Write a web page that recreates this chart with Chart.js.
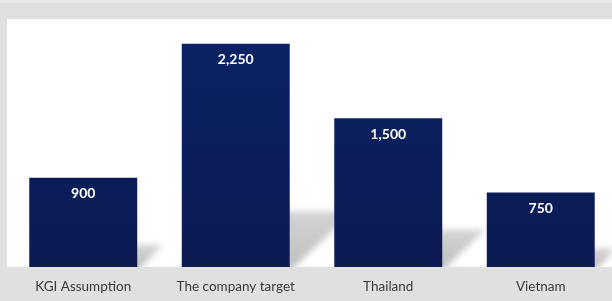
<!DOCTYPE html>
<html>
<head>
<meta charset="utf-8">
<script src="https://cdn.jsdelivr.net/npm/chart.js@4/dist/chart.umd.min.js"></script>
<style>
html,body{margin:0;padding:0;overflow:hidden;background:#e0e0e0;}
#wrap{position:absolute;left:0;top:0;width:618px;height:301px;}
</style>
</head>
<body>
<div id="wrap"><canvas id="c" width="618" height="301"></canvas></div>
<script>
const categories = ["KGI Assumption", "The company target", "Thailand", "Vietnam"];
const values = [900, 2250, 1500, 750];
const yMax = 2500;

const bgPlugin = {
  id: 'bg',
  beforeDraw(chart) {
    const {ctx, chartArea: a} = chart;
    ctx.save();
    ctx.fillStyle = '#e0e0e0';
    ctx.fillRect(0, 0, chart.width, chart.height);
    ctx.fillStyle = '#e9e9e9';
    ctx.fillRect(0, 0, chart.width, 3);
    ctx.fillStyle = '#ffffff';
    ctx.fillRect(a.left, a.top, a.right - a.left, a.bottom - a.top);
    ctx.restore();
  }
};

const shadowPlugin = {
  id: 'shadow',
  beforeDatasetsDraw(chart) {
    const {ctx, chartArea: a} = chart;
    const meta = chart.getDatasetMeta(0);
    ctx.save();
    ctx.beginPath();
    ctx.rect(a.left, a.top, a.right - a.left, a.bottom - a.top);
    ctx.clip();
    ctx.filter = 'blur(3px)';
    meta.data.forEach(el => {
      const h = el.base - el.y;
      const dy = h * 0.25;
      const dx = dy * 1.15;
      const l = el.x - el.width / 2, r = el.x + el.width / 2;
      const g = ctx.createLinearGradient(0, el.base, 0, el.base - dy);
      g.addColorStop(0, 'rgba(0,0,0,0.25)');
      g.addColorStop(1, 'rgba(0,0,0,0.17)');
      ctx.fillStyle = g;
      ctx.beginPath();
      ctx.moveTo(l, el.base + 4);
      ctx.lineTo(r, el.base + 4);
      ctx.lineTo(r + dx, el.base - dy);
      ctx.lineTo(l + dx, el.base - dy);
      ctx.closePath();
      ctx.fill();
    });
    ctx.restore();
  }
};

const labelPlugin = {
  id: 'vlabels',
  afterDatasetsDraw(chart) {
    const {ctx} = chart;
    const meta = chart.getDatasetMeta(0);
    ctx.save();
    ctx.fillStyle = '#ffffff';
    ctx.font = 'bold 14px Lato, "Open Sans", sans-serif';
    ctx.textAlign = 'center';
    ctx.textBaseline = 'middle';
    meta.data.forEach((el, i) => {
      ctx.fillText(values[i].toLocaleString('en-US'), el.x, el.y + 16);
    });
    ctx.restore();
  }
};

new Chart(document.getElementById('c'), {
  type: 'bar',
  data: {
    labels: categories,
    datasets: [{
      data: values,
      backgroundColor(ctx) {
        const c = ctx.chart;
        const a = c.chartArea;
        if (!a) return '#0b1f5e';
        const g = c.ctx.createLinearGradient(0, a.top, 0, a.bottom);
        g.addColorStop(0, '#0a2366');
        g.addColorStop(1, '#0c1a52');
        return g;
      },
      borderWidth: 0,
      barPercentage: 0.708,
      categoryPercentage: 1.0
    }]
  },
  options: {
    responsive: false,
    animation: false,
    devicePixelRatio: 1,
    layout: {padding: {left: 7, right: 1, top: 19, bottom: 0}},
    plugins: {legend: {display: false}, tooltip: {enabled: false}},
    scales: {
      x: {
        grid: {display: false, drawTicks: false},
        border: {display: false},
        afterFit(s) { s.height = 34; },
        ticks: {
          color: '#3a3a3a',
          font: {family: 'Lato, "Open Sans", sans-serif', size: 13.5},
          padding: 12,
          maxRotation: 0
        }
      },
      y: {
        display: false,
        min: 0,
        max: yMax
      }
    }
  },
  plugins: [bgPlugin, shadowPlugin, labelPlugin]
});
</script>
</body>
</html>
